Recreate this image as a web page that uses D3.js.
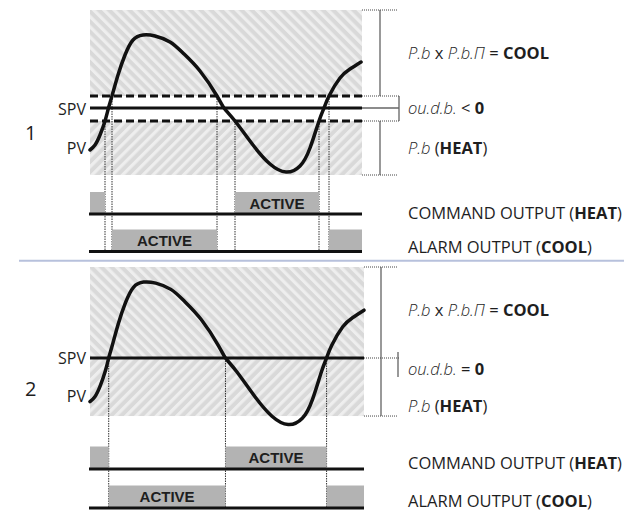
<!DOCTYPE html>
<html><head><meta charset="utf-8">
<script src="https://cdn.jsdelivr.net/npm/d3@7/dist/d3.min.js"></script>
<style>
html,body{margin:0;padding:0;background:#fff;}
svg{display:block;}
text{font-family:"Open Sans","Noto Sans",sans-serif;fill:#1e1e1e;}
</style></head>
<body>
<svg id="c" width="624" height="513"></svg>
<script>
// ---- DATA ----
// process variable (PV) over time, value relative to set point (SPV = 0)
const time = [0,5,10,15,18.5,22,28,35,43,53,65,80,93,110,127,134,145,163,180,196,210,220,229,234,239,250,260,271];
const pv   = [-42,-37,-27,-13,0,12,33,53,68,73,72,66,55,37,12,0,-13,-37,-56,-64,-58,-40,-13,0,12,30,39,46];
// band limits: [cool band top, dead band high, dead band low, heat band bottom]
const band1 = [98, 12, -13, -67];
const band2 = [87.5, 0, 0, -55.8];
// output activity intervals [start, end]
const heat1 = [[0,15],[145,229]];
const cool1 = [[22,127],[239,272]];
const heat2 = [[0,18.5],[134,234]];
const cool2 = [[18.5,134],[234,272]];
// switching instants [time, threshold level]
const switch1 = [[15,-13],[22,12],[127,12],[145,-13],[229,-13],[239,12]];
const switch2 = [[18.5,0],[134,0],[234,0]];
const panelIds = ["1","2"];
const dbOps = ["<", "="];
const activeLabel = "ACTIVE";

// ---- LAYOUT ----
const svg = d3.select("#c");
const defs = svg.append("defs");
const PER = 7.2;
function hatch(id, angle){
  const p = defs.append("pattern").attr("id",id).attr("patternUnits","userSpaceOnUse")
    .attr("width",PER).attr("height",PER).attr("patternTransform",`rotate(${angle})`);
  p.append("rect").attr("width",PER).attr("height",PER).attr("fill","#d9d9d9");
  p.append("rect").attr("width",3.2).attr("height",PER).attr("fill","#eeeeee");
}
hatch("hUp", 45);    // "/" stripes
hatch("hDown", -45); // "\" stripes

const panels = [
  {id:panelIds[0], band:band1, heat:heat1, cool:cool1, sw:switch1,
   x:d3.scaleLinear().domain([0,272]).range([90,362]),
   y:d3.scaleLinear().domain([0,1]).range([108,107]),
   cmdY:214, almY:251.5, boxH:22, op:dbOps[0],
   txt:{cool:59, db:114, heat:154, cmd:219, alm:253, spv:115, pv:154, num:140}, hatchX1:362, brX:380, brW:399},
  {id:panelIds[1], band:band2, heat:heat2, cool:cool2, sw:switch2,
   x:d3.scaleLinear().domain([0,272]).range([90,365]),
   y:d3.scaleLinear().domain([0,1]).range([358,356.96]),
   cmdY:469, almY:508, boxH:22.5, op:dbOps[1],
   txt:{cool:316, db:375, heat:412, cmd:469, alm:507, spv:364, pv:402, num:396}, hatchX1:364, brX:381, brW:400}
];

// separator
svg.append("line").attr("x1",19).attr("x2",624).attr("y1",260.8).attr("y2",260.8)
  .attr("stroke","#b7c1dc").attr("stroke-width",2);

panels.forEach(P=>{
  const g = svg.append("g");
  const x = P.x, y = P.y;
  const [top, dbH, dbL, bot] = P.band;
  const x0 = 90, x1 = P.hatchX1;
  // hatched bands
  g.append("rect").attr("x",x0).attr("width",x1-x0).attr("y",y(top)).attr("height",y(dbH)-y(top)).attr("fill","url(#hDown)");
  g.append("rect").attr("x",x0).attr("width",x1-x0).attr("y",y(dbL)).attr("height",y(bot)-y(dbL)).attr("fill","url(#hUp)");

  // right bracket annotations
  const dot = {stroke:"#444","stroke-width":1,"stroke-dasharray":"1,1"};
  function ln(xa,ya,xb,yb,st){const l=g.append("line").attr("x1",xa).attr("y1",ya).attr("x2",xb).attr("y2",yb);
    Object.entries(st).forEach(([k,v])=>l.attr(k,v)); return l;}
  const solidThin = {stroke:"#555","stroke-width":1.2};
  ln(x1,y(top),P.brW-2,y(top),dot);
  ln(x1,y(bot),P.brW-2,y(bot),dot);
  if(dbH!==dbL){
    ln(P.brX,y(top),P.brX,y(dbH),solidThin);
    ln(P.brX,y(dbL),P.brX,y(bot),solidThin);
    ln(x1,y(dbH),P.brW,y(dbH),dot);
    ln(x1,y(dbL),P.brW,y(dbL),dot);
    ln(P.brW,y(dbH),P.brW,y(dbL),solidThin);
    ln(x1,y(0),P.brW,y(0),{stroke:"#666","stroke-width":1.4});
  } else {
    ln(P.brX,y(top),P.brX,y(bot),solidThin);
    ln(x1,y(0),P.brW,y(0),dot);
    ln(P.brW-2,y(0)-6,P.brW-2,y(0)+19,solidThin);
  }

  // dotted switching verticals
  P.sw.forEach(([t,lv])=>{
    ln(x(t),y(lv),x(t),P.almY,{stroke:"#333","stroke-width":1,"stroke-dasharray":"1.5,1"});
  });

  // output boxes
  function boxes(arr, baseY, labelIdx){
    arr.forEach((iv,i)=>{
      g.append("rect").attr("x",x(iv[0])).attr("width",Math.min(x(iv[1]),x1)-x(iv[0]))
        .attr("y",baseY-P.boxH).attr("height",P.boxH).attr("fill","#b3b3b3");
      if(i===labelIdx){
        g.append("text").attr("x",(x(iv[0])+x(iv[1]))/2).attr("y",baseY-P.boxH/2+5.5)
          .attr("text-anchor","middle").style("font-family","'Liberation Sans',Arial,sans-serif")
          .style("font-weight","bold").style("font-size","15px").text(activeLabel);
      }
    });
    g.append("line").attr("x1",x0-1).attr("x2",x1).attr("y1",baseY).attr("y2",baseY)
      .attr("stroke","#111").attr("stroke-width",3);
  }
  boxes(P.heat, P.cmdY, 1);
  boxes(P.cool, P.almY, 0);

  // dead band dashed lines & SPV
  if(dbH!==dbL){
    [dbH,dbL].forEach(v=>ln(x0,y(v),x1,y(v),{stroke:"#111","stroke-width":3,"stroke-dasharray":"8,4"}));
  }
  ln(x0,y(0),x1,y(0),{stroke:"#111","stroke-width":3});

  // PV curve
  const line = d3.line().x((d,i)=>x(time[i])).y(d=>y(d)).curve(d3.curveNatural);
  g.append("path").attr("d",line(pv)).attr("fill","none").attr("stroke","#111")
    .attr("stroke-width",3.5).attr("stroke-linecap","round");

  // left labels
  g.append("text").attr("x",86).attr("y",P.txt.spv).attr("text-anchor","end").style("font-size","16px").text("SPV");
  g.append("text").attr("x",86).attr("y",P.txt.pv).attr("text-anchor","end").style("font-size","16px").text("PV");
  g.append("text").attr("x",25).attr("y",P.txt.num).style("font-size","20px").text(P.id);

  // right labels
  const tx = 408, fs = "16.5px";
  const seg = t=>`<tspan style="font-style:italic;font-weight:300">${t}</tspan>`;
  g.append("text").attr("x",tx).attr("y",P.txt.cool).style("font-size",fs)
    .html(`${seg("P.b")} x ${seg("P.b.Π")} = <tspan font-weight="bold">COOL</tspan>`);
  g.append("text").attr("x",tx).attr("y",P.txt.db).style("font-size",fs)
    .html(`${seg("ou.d.b.")} ${P.op} <tspan font-weight="bold">0</tspan>`);
  g.append("text").attr("x",tx).attr("y",P.txt.heat).style("font-size",fs)
    .html(`${seg("P.b")} (<tspan font-weight="bold">HEAT</tspan>)`);
  g.append("text").attr("x",tx).attr("y",P.txt.cmd).style("font-size",fs)
    .html(`COMMAND OUTPUT (<tspan font-weight="bold">HEAT</tspan>)`);
  g.append("text").attr("x",tx).attr("y",P.txt.alm).style("font-size",fs)
    .html(`ALARM OUTPUT (<tspan font-weight="bold">COOL</tspan>)`);
});
</script>
</body></html>
